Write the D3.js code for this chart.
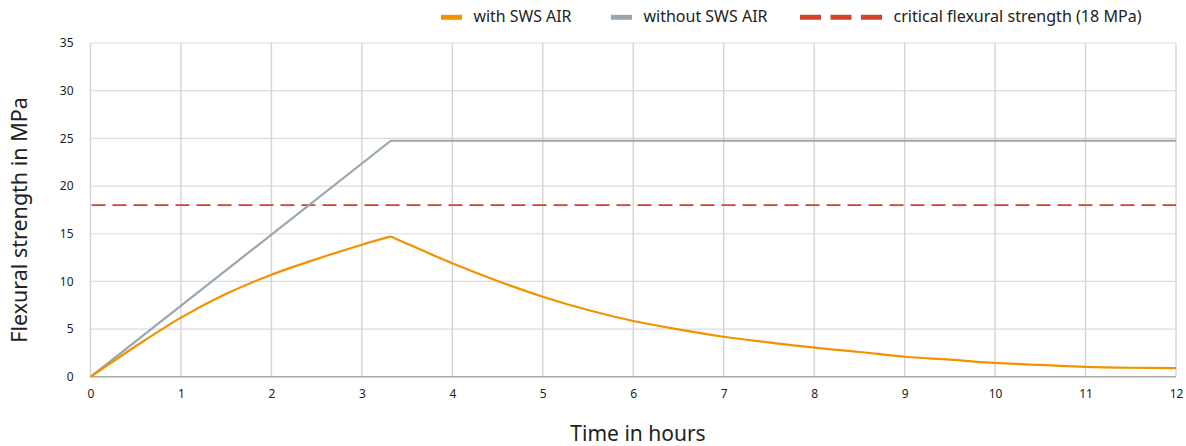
<!DOCTYPE html>
<html><head><meta charset="utf-8">
<script src="https://cdn.jsdelivr.net/npm/d3@7"></script>
<style>
html,body{margin:0;padding:0;background:#fff;}
svg text{font-family:"Noto Sans","Open Sans",sans-serif;fill:#222;}
</style></head>
<body>
<svg id="chart" width="1186" height="446"></svg>
<script>
// Data
const hours = [0,0.5,1,1.5,2,2.5,3,3.32,3.5,4,4.5,5,5.5,6,6.5,7,7.5,8,8.5,9,9.5,10,10.5,11,11.5,12];
const withSWS = [0,3.2,6.2,8.7,10.7,12.35,13.85,14.72,13.95,11.9,10.05,8.4,7.0,5.85,4.97,4.2,3.6,3.05,2.6,2.1,1.8,1.45,1.25,1.05,0.95,0.9];
const withoutHours = [0,3.32,12];
const withoutSWS = [0,24.75,24.75];
const criticalStrength = 18;
const xTicks = [0,1,2,3,4,5,6,7,8,9,10,11,12];
const yTicks = [0,5,10,15,20,25,30,35];
const legendLabels = ["with SWS AIR","without SWS AIR","critical flexural strength (18 MPa)"];
const colors = {with:"#f39200", without:"#9aa6af", critical:"#d6402f"};

const svg = d3.select("#chart");
const x = d3.scaleLinear().domain([0,12]).range([90.5,1176]);
const y = d3.scaleLinear().domain([0,35]).range([376.8,43]);

// grid
svg.append("g").selectAll("line").data(yTicks.filter(d=>d>0)).join("line")
  .attr("x1",x(0)).attr("x2",x(12)).attr("y1",d=>y(d)).attr("y2",d=>y(d))
  .attr("stroke","#dcdcdc").attr("stroke-width",1.2);
svg.append("g").selectAll("line").data(xTicks).join("line")
  .attr("x1",d=>x(d)).attr("x2",d=>x(d)).attr("y1",y(35)).attr("y2",y(0))
  .attr("stroke","#d4d4d4").attr("stroke-width",1.4);
// bottom axis line
svg.append("line").attr("x1",x(0)).attr("x2",x(12)).attr("y1",y(0)).attr("y2",y(0))
  .attr("stroke","#a9a9a9").attr("stroke-width",1.4);

// axes labels via d3 axes (no lines)
const xAxis = svg.append("g").attr("transform",`translate(0,${y(0)})`)
  .call(d3.axisBottom(x).tickValues(xTicks).tickSize(0).tickPadding(13).tickFormat(d3.format("d")));
xAxis.select(".domain").remove();
xAxis.selectAll("text").attr("font-size",12).style("font-family","Noto Sans").attr("fill","#222");
const yAxis = svg.append("g").attr("transform",`translate(${x(0)},0)`)
  .call(d3.axisLeft(y).tickValues(yTicks).tickSize(0).tickPadding(17).tickFormat(d3.format("d")));
yAxis.select(".domain").remove();
yAxis.selectAll("text").attr("font-size",12).style("font-family","Noto Sans").attr("fill","#222");

// axis titles
svg.append("text").attr("x",638).attr("y",441).attr("text-anchor","middle")
  .attr("font-size",21).text("Time in hours");
svg.append("text").attr("transform","translate(27,220) rotate(-90)").attr("text-anchor","middle")
  .attr("font-size",21.5).text("Flexural strength in MPa");

// critical line
svg.append("line").attr("x1",x(0)).attr("x2",x(12)).attr("y1",y(criticalStrength)).attr("y2",y(criticalStrength))
  .attr("stroke",colors.critical).attr("stroke-width",1.6).attr("stroke-dasharray","14,7").attr("stroke-dashoffset",-1);

// series
const line = d3.line().x(d=>x(d[0])).y(d=>y(d[1]));
svg.append("path").datum(withoutHours.map((h,i)=>[h,withoutSWS[i]]))
  .attr("d",line).attr("fill","none").attr("stroke",colors.without).attr("stroke-width",2.2);
const orangeLine = d3.line().x(d=>x(d[0])).y(d=>y(d[1])).curve(d3.curveCatmullRom.alpha(0.5));
const peakIdx = withSWS.indexOf(d3.max(withSWS));
const pts = hours.map((h,i)=>[h,withSWS[i]]);
svg.append("path").datum(pts.slice(0,peakIdx+1))
  .attr("d",orangeLine).attr("fill","none").attr("stroke",colors.with).attr("stroke-width",2.2).attr("stroke-linejoin","round");
svg.append("path").datum(pts.slice(peakIdx))
  .attr("d",orangeLine).attr("fill","none").attr("stroke",colors.with).attr("stroke-width",2.2).attr("stroke-linejoin","round");

// legend
const lg = svg.append("g");
const ly = 17.3;
const lText = (xx, t, w) => lg.append("text").attr("x",xx).attr("y",22).attr("font-size",15.5)
  .attr("textLength",w).attr("lengthAdjust","spacingAndGlyphs").text(t);
lg.append("line").attr("x1",441).attr("x2",462).attr("y1",ly).attr("y2",ly).attr("stroke",colors.with).attr("stroke-width",5);
lText(473.5, legendLabels[0], 98);
lg.append("line").attr("x1",611).attr("x2",632).attr("y1",ly).attr("y2",ly).attr("stroke",colors.without).attr("stroke-width",5);
lText(643.5, legendLabels[1], 124);
lg.append("line").attr("x1",800).attr("x2",882).attr("y1",ly).attr("y2",ly).attr("stroke",colors.critical).attr("stroke-width",5).attr("stroke-dasharray","21,9.5");
lText(893.5, legendLabels[2], 248);
</script>
</body></html>
